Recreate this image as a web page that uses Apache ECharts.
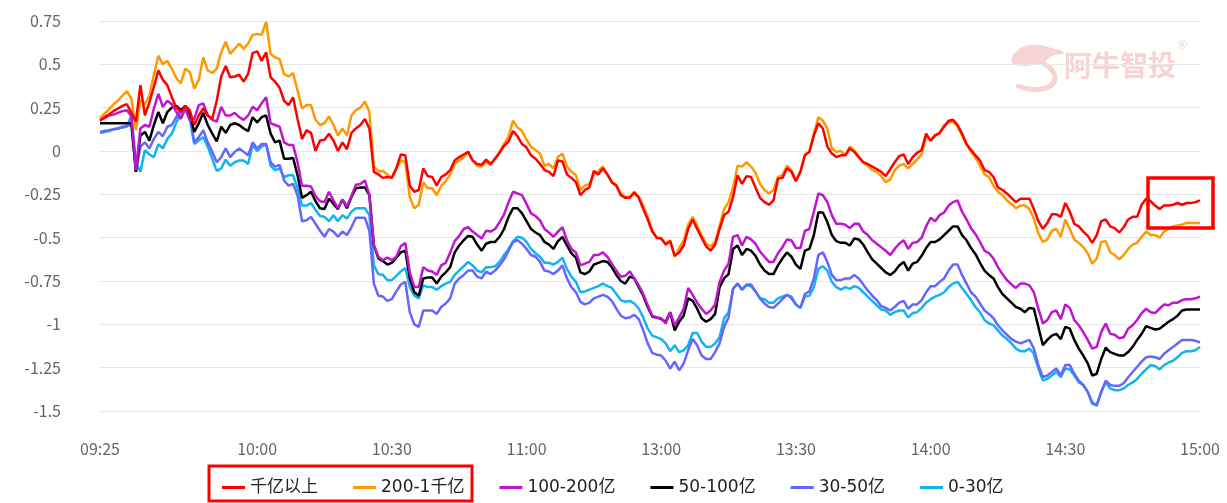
<!DOCTYPE html>
<html><head><meta charset="utf-8">
<script src="https://cdn.jsdelivr.net/npm/echarts@6/dist/echarts.min.js"></script>
<style>html,body{margin:0;padding:0;background:#fff}#c{width:1227px;height:503px}</style>
</head><body><div id="c"></div>
<script>
// ---- categories (one per minute: 09:25-11:29, 13:00, 13:01-15:00) ----
function pad(n){return (n<10?'0':'')+n;}
const timeCategories = [];
for (let m = 9*60+25; m < 11*60+30; m++) timeCategories.push(pad(Math.floor(m/60))+':'+pad(m%60));
for (let m = 13*60; m <= 15*60; m++) timeCategories.push(pad(Math.floor(m/60))+':'+pad(m%60));

const xTickLabels = ['09:25','10:00','10:30','11:00','13:00','13:30','14:00','14:30','15:00'];
const yMin = -1.5, yMax = 0.75, yStep = 0.25;

const seriesNames = ['千亿以上','200-1千亿','100-200亿','50-100亿','30-50亿','0-30亿'];
const seriesColors = ['#ff0000','#ff9900','#bf15cf','#000000','#6666ff','#12b4f0'];

const s1000 = [
0.175,0.195,0.21,0.23,0.245,0.26,0.27,0.22,0.17,0.38,
0.205,0.28,0.37,0.465,0.41,0.38,0.31,0.25,0.225,0.26,
0.235,0.15,0.205,0.245,0.205,0.185,0.29,0.43,0.49,0.425,
0.43,0.44,0.40,0.445,0.565,0.575,0.52,0.57,0.425,0.40,
0.365,0.29,0.265,0.31,0.185,0.07,0.12,0.105,0.0,0.06,
0.065,0.1,0.06,0.0,0.05,0.01,0.105,0.13,0.15,0.185,
0.13,-0.12,-0.135,-0.155,-0.15,-0.155,-0.1,-0.02,-0.025,-0.2,
-0.235,-0.225,-0.1,-0.145,-0.15,-0.2,-0.15,-0.135,-0.11,-0.055,
-0.035,-0.02,-0.005,-0.055,-0.075,-0.08,-0.05,-0.075,-0.045,-0.01,
0.03,0.055,0.115,0.085,0.04,0.02,-0.025,-0.045,-0.075,-0.11,
-0.12,-0.145,-0.055,-0.06,-0.135,-0.155,-0.18,-0.255,-0.225,-0.21,
-0.115,-0.135,-0.1,-0.135,-0.18,-0.2,-0.255,-0.27,-0.27,-0.24,
-0.27,-0.335,-0.395,-0.465,-0.5,-0.505,-0.54,-0.52,-0.605,-0.585,
-0.545,-0.45,-0.395,-0.45,-0.5,-0.55,-0.575,-0.54,-0.45,-0.37,
-0.35,-0.265,-0.14,-0.19,-0.145,-0.15,-0.21,-0.27,-0.295,-0.31,
-0.285,-0.16,-0.155,-0.1,-0.12,-0.175,-0.12,-0.025,-0.005,0.09,
0.16,0.13,0.025,-0.015,-0.035,-0.025,-0.025,0.015,-0.005,-0.035,
-0.065,-0.075,-0.09,-0.105,-0.12,-0.145,-0.105,-0.065,-0.03,-0.02,
-0.075,-0.035,-0.01,0.005,0.1,0.06,0.09,0.105,0.14,0.175,
0.18,0.15,0.1,0.04,0.005,-0.025,-0.055,-0.11,-0.12,-0.15,
-0.21,-0.225,-0.245,-0.27,-0.295,-0.275,-0.275,-0.275,-0.335,-0.405,
-0.45,-0.415,-0.365,-0.365,-0.38,-0.3,-0.35,-0.42,-0.435,-0.465,
-0.49,-0.53,-0.485,-0.405,-0.395,-0.435,-0.445,-0.47,-0.44,-0.395,
-0.38,-0.38,-0.31,-0.275,-0.29,-0.315,-0.335,-0.315,-0.315,-0.31,
-0.3,-0.31,-0.3,-0.3,-0.295,-0.285];

const s200_1000 = [
0.19,0.215,0.24,0.27,0.29,0.32,0.345,0.30,0.12,0.30,
0.27,0.32,0.44,0.55,0.50,0.52,0.475,0.42,0.39,0.475,
0.455,0.36,0.41,0.54,0.465,0.45,0.475,0.57,0.63,0.56,
0.59,0.62,0.59,0.62,0.67,0.675,0.67,0.745,0.56,0.54,
0.53,0.445,0.43,0.45,0.35,0.245,0.265,0.265,0.18,0.15,
0.16,0.2,0.15,0.09,0.13,0.09,0.205,0.235,0.25,0.285,
0.225,-0.09,-0.115,-0.115,-0.135,-0.155,-0.1,-0.055,-0.065,-0.265,
-0.33,-0.31,-0.18,-0.215,-0.215,-0.255,-0.2,-0.175,-0.135,-0.075,
-0.055,-0.035,-0.005,-0.055,-0.085,-0.09,-0.065,-0.08,-0.045,-0.005,
0.04,0.085,0.175,0.135,0.115,0.065,0.025,0.005,-0.015,-0.085,
-0.075,-0.1,-0.035,-0.015,-0.09,-0.12,-0.14,-0.225,-0.2,-0.19,
-0.135,-0.115,-0.09,-0.135,-0.18,-0.195,-0.245,-0.265,-0.265,-0.235,
-0.265,-0.315,-0.38,-0.46,-0.5,-0.505,-0.535,-0.515,-0.61,-0.56,
-0.515,-0.425,-0.38,-0.43,-0.485,-0.535,-0.55,-0.525,-0.43,-0.335,
-0.295,-0.21,-0.085,-0.09,-0.065,-0.09,-0.125,-0.19,-0.225,-0.245,
-0.225,-0.15,-0.14,-0.085,-0.11,-0.17,-0.12,-0.02,-0.005,0.1,
0.195,0.175,0.13,0.015,-0.005,0.0,-0.025,0.025,0.005,-0.035,
-0.065,-0.085,-0.11,-0.12,-0.145,-0.18,-0.165,-0.11,-0.085,-0.075,
-0.1,-0.075,-0.05,-0.02,0.085,0.06,0.09,0.1,0.15,0.165,
0.17,0.14,0.09,0.04,-0.005,-0.04,-0.085,-0.135,-0.15,-0.2,
-0.235,-0.255,-0.285,-0.305,-0.33,-0.315,-0.315,-0.335,-0.39,-0.475,
-0.525,-0.51,-0.46,-0.45,-0.495,-0.395,-0.45,-0.51,-0.53,-0.555,
-0.59,-0.65,-0.62,-0.525,-0.52,-0.585,-0.6,-0.625,-0.6,-0.565,
-0.54,-0.53,-0.495,-0.465,-0.485,-0.485,-0.5,-0.465,-0.45,-0.435,
-0.43,-0.425,-0.415,-0.415,-0.415,-0.415];

const s100_200 = [
0.18,0.19,0.205,0.21,0.22,0.23,0.235,0.2,-0.11,0.13,
0.15,0.14,0.245,0.33,0.255,0.29,0.27,0.225,0.185,0.245,
0.175,0.185,0.265,0.275,0.205,0.18,0.17,0.255,0.205,0.205,
0.22,0.195,0.18,0.205,0.255,0.235,0.275,0.31,0.16,0.15,
0.14,0.05,0.035,0.035,-0.065,-0.2,-0.2,-0.205,-0.26,-0.29,
-0.295,-0.235,-0.285,-0.33,-0.28,-0.32,-0.26,-0.195,-0.19,-0.17,
-0.255,-0.545,-0.61,-0.63,-0.615,-0.63,-0.61,-0.55,-0.53,-0.70,
-0.785,-0.785,-0.67,-0.69,-0.695,-0.715,-0.66,-0.645,-0.585,-0.52,
-0.49,-0.45,-0.44,-0.465,-0.485,-0.505,-0.46,-0.465,-0.45,-0.41,
-0.365,-0.295,-0.235,-0.245,-0.255,-0.305,-0.36,-0.375,-0.40,-0.45,
-0.47,-0.495,-0.465,-0.44,-0.515,-0.565,-0.585,-0.66,-0.65,-0.64,
-0.6,-0.6,-0.585,-0.61,-0.65,-0.69,-0.725,-0.72,-0.695,-0.735,
-0.775,-0.825,-0.89,-0.95,-0.96,-0.965,-0.995,-0.93,-1.005,-0.96,
-0.91,-0.79,-0.83,-0.875,-0.91,-0.94,-0.92,-0.885,-0.755,-0.69,
-0.65,-0.495,-0.485,-0.545,-0.495,-0.51,-0.535,-0.58,-0.61,-0.64,
-0.64,-0.59,-0.555,-0.51,-0.515,-0.56,-0.56,-0.46,-0.45,-0.35,
-0.245,-0.255,-0.295,-0.37,-0.42,-0.42,-0.425,-0.445,-0.42,-0.42,
-0.465,-0.485,-0.515,-0.535,-0.555,-0.575,-0.6,-0.565,-0.535,-0.515,
-0.565,-0.53,-0.525,-0.5,-0.435,-0.385,-0.405,-0.37,-0.355,-0.315,
-0.295,-0.285,-0.35,-0.395,-0.445,-0.48,-0.525,-0.575,-0.59,-0.62,
-0.67,-0.71,-0.745,-0.77,-0.79,-0.765,-0.765,-0.775,-0.815,-0.91,
-0.995,-0.975,-0.93,-0.92,-0.97,-0.885,-0.905,-0.975,-1.005,-1.045,
-1.09,-1.14,-1.13,-1.045,-0.995,-1.055,-1.06,-1.08,-1.075,-1.025,
-1.005,-0.975,-0.935,-0.91,-0.93,-0.935,-0.91,-0.885,-0.89,-0.875,
-0.875,-0.86,-0.855,-0.855,-0.85,-0.84];

const s50_100 = [
0.16,0.16,0.16,0.16,0.16,0.16,0.16,0.16,-0.12,0.09,
0.11,0.06,0.15,0.225,0.16,0.225,0.25,0.26,0.235,0.26,
0.215,0.11,0.16,0.22,0.15,0.10,0.055,0.14,0.105,0.15,
0.16,0.15,0.13,0.115,0.195,0.165,0.195,0.205,0.10,0.05,
0.06,-0.045,-0.045,-0.04,-0.14,-0.27,-0.255,-0.235,-0.29,-0.33,
-0.335,-0.275,-0.305,-0.335,-0.28,-0.33,-0.265,-0.215,-0.21,-0.21,
-0.255,-0.545,-0.62,-0.635,-0.655,-0.645,-0.615,-0.585,-0.575,-0.735,
-0.815,-0.835,-0.735,-0.73,-0.73,-0.765,-0.725,-0.7,-0.67,-0.585,
-0.545,-0.515,-0.49,-0.495,-0.54,-0.575,-0.535,-0.525,-0.525,-0.495,
-0.45,-0.38,-0.33,-0.33,-0.36,-0.405,-0.45,-0.47,-0.485,-0.525,
-0.54,-0.565,-0.52,-0.495,-0.545,-0.59,-0.615,-0.7,-0.71,-0.695,
-0.655,-0.645,-0.635,-0.64,-0.67,-0.715,-0.75,-0.765,-0.725,-0.735,
-0.785,-0.835,-0.9,-0.955,-0.96,-0.97,-0.985,-0.93,-1.035,-0.985,
-0.95,-0.85,-0.865,-0.91,-0.965,-0.985,-0.97,-0.94,-0.785,-0.735,
-0.71,-0.565,-0.545,-0.6,-0.565,-0.575,-0.605,-0.655,-0.69,-0.71,
-0.71,-0.66,-0.62,-0.585,-0.61,-0.655,-0.68,-0.575,-0.565,-0.485,
-0.355,-0.355,-0.41,-0.485,-0.52,-0.53,-0.53,-0.545,-0.505,-0.51,
-0.54,-0.585,-0.625,-0.65,-0.675,-0.7,-0.715,-0.695,-0.66,-0.64,
-0.69,-0.65,-0.64,-0.605,-0.56,-0.525,-0.525,-0.51,-0.485,-0.46,
-0.435,-0.435,-0.485,-0.515,-0.56,-0.595,-0.645,-0.69,-0.715,-0.735,
-0.785,-0.825,-0.85,-0.875,-0.9,-0.91,-0.93,-0.905,-0.91,-1.015,
-1.12,-1.09,-1.065,-1.055,-1.085,-1.015,-1.025,-1.09,-1.14,-1.18,
-1.225,-1.295,-1.285,-1.2,-1.135,-1.16,-1.17,-1.18,-1.18,-1.16,
-1.13,-1.09,-1.055,-1.01,-1.02,-1.03,-1.025,-1.005,-0.985,-0.97,
-0.95,-0.92,-0.915,-0.915,-0.915,-0.915];

const s30_50 = [
0.11,0.115,0.12,0.125,0.13,0.14,0.145,0.15,-0.12,0.025,
0.05,0.015,0.07,0.11,0.085,0.14,0.15,0.195,0.235,0.25,
0.205,0.05,0.08,0.12,0.05,-0.005,-0.065,-0.035,0.015,-0.035,
-0.005,0.015,-0.005,-0.025,0.05,0.015,0.04,0.04,-0.065,-0.09,
-0.08,-0.17,-0.2,-0.19,-0.255,-0.405,-0.4,-0.38,-0.42,-0.46,
-0.495,-0.45,-0.465,-0.495,-0.465,-0.485,-0.44,-0.385,-0.385,-0.385,
-0.46,-0.765,-0.835,-0.84,-0.865,-0.855,-0.81,-0.77,-0.755,-0.93,
-1.0,-1.015,-0.92,-0.92,-0.92,-0.94,-0.9,-0.88,-0.85,-0.765,
-0.735,-0.715,-0.69,-0.69,-0.725,-0.735,-0.695,-0.71,-0.69,-0.66,
-0.625,-0.575,-0.525,-0.515,-0.535,-0.565,-0.6,-0.61,-0.64,-0.69,
-0.695,-0.71,-0.69,-0.66,-0.735,-0.785,-0.815,-0.87,-0.885,-0.875,
-0.85,-0.84,-0.83,-0.84,-0.865,-0.91,-0.95,-0.965,-0.96,-0.945,
-0.97,-1.035,-1.11,-1.165,-1.175,-1.18,-1.21,-1.255,-1.215,-1.265,
-1.225,-1.15,-1.085,-1.12,-1.18,-1.2,-1.2,-1.16,-1.11,-1.015,
-0.96,-0.795,-0.765,-0.8,-0.77,-0.77,-0.81,-0.85,-0.88,-0.9,
-0.905,-0.88,-0.855,-0.83,-0.85,-0.885,-0.905,-0.825,-0.81,-0.735,
-0.6,-0.585,-0.64,-0.715,-0.745,-0.745,-0.735,-0.735,-0.715,-0.735,
-0.77,-0.805,-0.835,-0.86,-0.895,-0.905,-0.92,-0.9,-0.875,-0.865,
-0.91,-0.885,-0.885,-0.86,-0.815,-0.78,-0.78,-0.755,-0.735,-0.69,
-0.655,-0.655,-0.715,-0.765,-0.815,-0.84,-0.88,-0.92,-0.94,-0.965,
-1.005,-1.035,-1.06,-1.085,-1.1,-1.11,-1.1,-1.09,-1.14,-1.235,
-1.305,-1.295,-1.275,-1.255,-1.295,-1.235,-1.235,-1.285,-1.325,-1.35,
-1.39,-1.45,-1.47,-1.39,-1.325,-1.35,-1.355,-1.355,-1.34,-1.305,
-1.275,-1.245,-1.215,-1.19,-1.185,-1.19,-1.2,-1.17,-1.15,-1.13,
-1.11,-1.09,-1.09,-1.09,-1.095,-1.105];

const s0_30 = [
0.105,0.11,0.115,0.125,0.13,0.135,0.14,0.21,-0.065,-0.12,
0.005,-0.02,-0.035,0.04,0.015,0.07,0.1,0.165,0.21,0.245,
0.185,0.04,0.06,0.08,0.025,-0.045,-0.115,-0.1,-0.05,-0.085,
-0.065,-0.055,-0.055,-0.075,0.035,0.0,0.025,0.04,-0.085,-0.11,
-0.1,-0.15,-0.14,-0.14,-0.215,-0.315,-0.315,-0.3,-0.34,-0.375,
-0.38,-0.405,-0.37,-0.405,-0.37,-0.39,-0.35,-0.33,-0.33,-0.33,
-0.37,-0.66,-0.71,-0.715,-0.745,-0.745,-0.72,-0.695,-0.675,-0.785,
-0.835,-0.85,-0.775,-0.785,-0.785,-0.8,-0.78,-0.765,-0.755,-0.715,
-0.69,-0.665,-0.64,-0.66,-0.69,-0.7,-0.67,-0.67,-0.665,-0.64,
-0.6,-0.565,-0.52,-0.495,-0.5,-0.525,-0.565,-0.59,-0.61,-0.645,
-0.645,-0.655,-0.64,-0.615,-0.68,-0.725,-0.755,-0.815,-0.81,-0.8,
-0.79,-0.78,-0.765,-0.78,-0.79,-0.825,-0.86,-0.87,-0.865,-0.88,
-0.91,-0.96,-1.025,-1.065,-1.075,-1.085,-1.11,-1.155,-1.12,-1.16,
-1.15,-1.12,-1.05,-1.05,-1.1,-1.13,-1.13,-1.11,-1.075,-0.965,
-0.93,-0.795,-0.765,-0.8,-0.775,-0.78,-0.81,-0.85,-0.855,-0.875,
-0.875,-0.85,-0.84,-0.83,-0.84,-0.885,-0.905,-0.84,-0.835,-0.785,
-0.68,-0.665,-0.69,-0.755,-0.785,-0.8,-0.785,-0.795,-0.78,-0.79,
-0.815,-0.84,-0.865,-0.89,-0.915,-0.92,-0.945,-0.93,-0.92,-0.92,
-0.96,-0.935,-0.93,-0.905,-0.875,-0.855,-0.84,-0.83,-0.815,-0.785,
-0.765,-0.755,-0.79,-0.825,-0.86,-0.9,-0.93,-0.975,-0.995,-1.005,
-1.035,-1.065,-1.085,-1.11,-1.14,-1.155,-1.155,-1.14,-1.17,-1.255,
-1.325,-1.315,-1.295,-1.275,-1.305,-1.255,-1.26,-1.295,-1.335,-1.35,
-1.39,-1.46,-1.465,-1.39,-1.335,-1.37,-1.38,-1.38,-1.37,-1.35,
-1.335,-1.315,-1.285,-1.26,-1.235,-1.24,-1.26,-1.235,-1.22,-1.21,
-1.19,-1.165,-1.155,-1.155,-1.15,-1.13];

const seriesData = [s1000, s200_1000, s100_200, s50_100, s30_50, s0_30];

const FONT = '"Noto Sans CJK SC", "Noto Sans", sans-serif';
const LEGEND_FONT = '"DejaVu Sans", "Noto Sans CJK SC", sans-serif';
const WM = '#f7d3d3';
function curve(x1,y1,c1x,c1y,c2x,c2y,x2,y2,w){
  return {type:'bezierCurve', z:0, silent:true,
    shape:{x1:x1,y1:y1,cpx1:c1x,cpy1:c1y,cpx2:c2x,cpy2:c2y,x2:x2,y2:y2},
    style:{stroke:WM, lineWidth:w, fill:null, lineCap:'round'}};
}
const chart = echarts.init(document.getElementById('c'), null, {renderer: 'canvas'});
chart.setOption({
  animation: false,
  backgroundColor: '#ffffff',
  textStyle: {fontFamily: FONT},
  grid: {left: 100, right: 27, top: 21, bottom: 92},
  xAxis: {
    type: 'category', data: timeCategories, boundaryGap: false,
    axisLine: {show: false}, axisTick: {show: false}, splitLine: {show: false},
    axisLabel: {
      interval: function (idx, val) { return xTickLabels.indexOf(val) >= 0; },
      color: '#666', fontSize: 16, margin: 30, fontFamily: FONT
    }
  },
  yAxis: {
    type: 'value', min: yMin, max: yMax, interval: yStep,
    axisLine: {show: false}, axisTick: {show: false},
    axisLabel: {color: '#666', fontSize: 16, margin: 39, fontFamily: FONT},
    splitLine: {lineStyle: {color: '#e6e6e6', width: 1}}
  },
  legend: {
    left: 217, top: 474, icon: 'rect', itemWidth: 23, itemHeight: 3, itemGap: 35,
    textStyle: {color: '#222', fontSize: 17, fontFamily: LEGEND_FONT},
    data: seriesNames
  },
  graphic: [
    {type: 'polygon', z: 0, silent: true,
     shape: {smooth: 0.5, points: [[1012,62],[1018,50],[1034,45],[1052,48],[1064,53],[1052,56],[1044,62],[1036,64],[1024,66]]},
     style: {fill: WM}},
    curve(1040,62, 1056,68, 1060,82, 1048,87, 5),
    curve(1048,87, 1040,91, 1028,90, 1018,86, 5),
    {type: 'text', z: 0, silent: true, x: 1064, y: 51,
     style: {text: '阿牛智投', fill: WM, fontSize: 28, fontWeight: 'bold', fontFamily: 'Noto Sans CJK SC'}},
    {type: 'text', z: 0, silent: true, x: 1178, y: 40,
     style: {text: '®', fill: WM, fontSize: 11, fontFamily: 'Noto Sans'}},
    {type: 'rect', z: 100, silent: true, shape: {x: 209, y: 466, width: 263, height: 35}, style: {fill: null, stroke: '#ff0000', lineWidth: 3}},
    {type: 'rect', z: 100, silent: true, shape: {x: 1148, y: 178, width: 65, height: 50}, style: {fill: null, stroke: '#ff0000', lineWidth: 3.5}}
  ],
  series: seriesNames.map(function (n, k) {
    return {
      name: n, type: 'line', data: seriesData[k], symbol: 'none', showSymbol: false,
      color: seriesColors[k], lineStyle: {width: 2.5, color: seriesColors[k]}, z: 10 - k
    };
  })
});
</script></body></html>
